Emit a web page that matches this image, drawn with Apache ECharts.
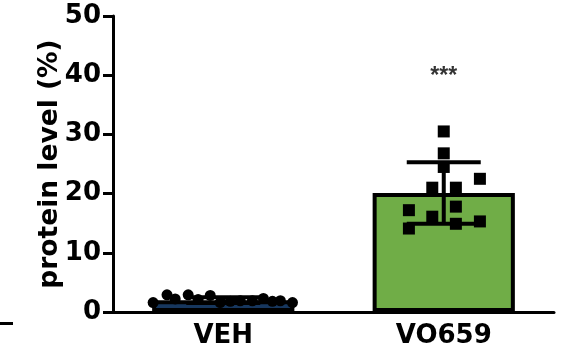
<!DOCTYPE html>
<html>
<head>
<meta charset="utf-8">
<script src="https://cdn.jsdelivr.net/npm/echarts@6/dist/echarts.min.js"></script>
<style>
  html, body { margin: 0; padding: 0; background: #fff; }
  #chart { width: 562px; height: 354px; }
</style>
</head>
<body>
<div id="chart"></div>
<script>
// Groups and summary values
const groups = ['VEH', 'VO659'];
const groupMeans = [2.0, 20.1];
const groupSDs = [0.5, 5.2];
const yTicks = [0, 10, 20, 30, 40, 50];
const significance = ['', '***'];

// Individual measurements per group, with horizontal spread (fraction of a category band)
const vehValues = [1.6, 2.9, 2.2, 2.9, 2.1, 2.8, 1.6, 1.8, 1.9, 1.9, 2.3, 1.8, 1.9, 1.6];
const vehSpread = [-0.318, -0.255, -0.218, -0.159, -0.114, -0.059, -0.014, 0.032, 0.077, 0.132, 0.182, 0.223, 0.259, 0.314];
const vo659Values = [30.5, 26.8, 24.5, 22.5, 21.0, 21.0, 17.2, 17.8, 16.1, 14.9, 15.3, 14.1];
const vo659Spread = [0.0, 0.0, 0.0, 0.164, -0.052, 0.055, -0.158, 0.055, -0.052, 0.055, 0.164, -0.158];

const FONT = '"DejaVu Sans", "Liberation Sans", Arial, sans-serif';
const STAR_FONT = '"Liberation Sans", Arial, sans-serif';

const vehPoints = vehValues.map((v, i) => [0.5 + vehSpread[i], v]);
const vo659Points = vo659Values.map((v, i) => [1.5 + vo659Spread[i], v]);

const chart = echarts.init(document.getElementById('chart'), null, { renderer: 'canvas' });

chart.setOption({
  animation: false,
  backgroundColor: '#ffffff',
  grid: { left: 113, right: 8, top: 16, bottom: 42, containLabel: false },
  xAxis: [
    {
      type: 'category',
      data: groups,
      axisLine: { lineStyle: { color: '#000', width: 3 } },
      axisTick: { alignWithLabel: true, length: 8, lineStyle: { color: '#000', width: 3 } },
      axisLabel: { color: '#000', fontFamily: FONT, fontWeight: 'bold', fontSize: 26, margin: 11 },
      splitLine: { show: false }
    },
    {
      type: 'value', min: 0, max: 2, show: false, gridIndex: 0
    }
  ],
  yAxis: {
    type: 'value',
    min: yTicks[0],
    max: yTicks[yTicks.length - 1],
    interval: 10,
    name: 'protein level (%)',
    nameLocation: 'middle',
    nameGap: 49,
    nameMoveOverlap: false,
    nameTextStyle: { color: '#000', fontFamily: FONT, fontWeight: 'bold', fontSize: 26.5 },
    axisLine: { show: true, lineStyle: { color: '#000', width: 3 } },
    axisTick: { show: true, length: 10, lineStyle: { color: '#000', width: 3 } },
    axisLabel: { color: '#000', fontFamily: FONT, fontWeight: 'bold', fontSize: 26, margin: 12 },
    splitLine: { show: false }
  },
  series: [
    {
      type: 'bar',
      xAxisIndex: 0,
      barWidth: '64.5%',
      data: groupMeans.map((m, i) => ({
        value: m,
        itemStyle: { color: i === 0 ? '#17375e' : '#70ad47', borderColor: '#000', borderWidth: 4 }
      })),
      z: 2
    },
    {
      // mean ± SD whiskers
      type: 'custom',
      xAxisIndex: 0,
      data: groupMeans.map((m, i) => [i, m - groupSDs[i], m + groupSDs[i]]),
      renderItem: function (params, api) {
        const lo = api.coord([api.value(0), api.value(1)]);
        const hi = api.coord([api.value(0), api.value(2)]);
        const half = 37;
        const style = { stroke: '#000', lineWidth: 4, fill: null };
        return {
          type: 'group',
          children: [
            { type: 'line', shape: { x1: hi[0], y1: hi[1], x2: lo[0], y2: lo[1] }, style: style },
            { type: 'line', shape: { x1: hi[0] - half, y1: hi[1], x2: hi[0] + half, y2: hi[1] }, style: style },
            { type: 'line', shape: { x1: lo[0] - half, y1: lo[1], x2: lo[0] + half, y2: lo[1] }, style: style }
          ]
        };
      },
      z: 4
    },
    {
      type: 'scatter',
      xAxisIndex: 1,
      symbol: 'circle',
      symbolSize: 11,
      itemStyle: { color: '#000', opacity: 1 },
      data: vehPoints,
      z: 5
    },
    {
      type: 'scatter',
      xAxisIndex: 1,
      symbol: 'rect',
      symbolSize: 12,
      itemStyle: { color: '#000', opacity: 1 },
      data: vo659Points,
      z: 5
    },
    {
      // significance marks above each group
      type: 'scatter',
      xAxisIndex: 1,
      symbolSize: 0,
      silent: true,
      data: significance.map((s, i) => ({ value: [i + 0.5, 39.8], name: s })),
      label: {
        show: true,
        position: 'inside',
        formatter: p => p.name,
        color: '#000',
        fontFamily: STAR_FONT,
        fontWeight: 'bold',
        fontSize: 23
      },
      z: 6
    }
  ],
  graphic: [
    { type: 'rect', left: 0, top: 322, shape: { width: 13, height: 3 }, style: { fill: '#000' } }
  ]
});
</script>
</body>
</html>
